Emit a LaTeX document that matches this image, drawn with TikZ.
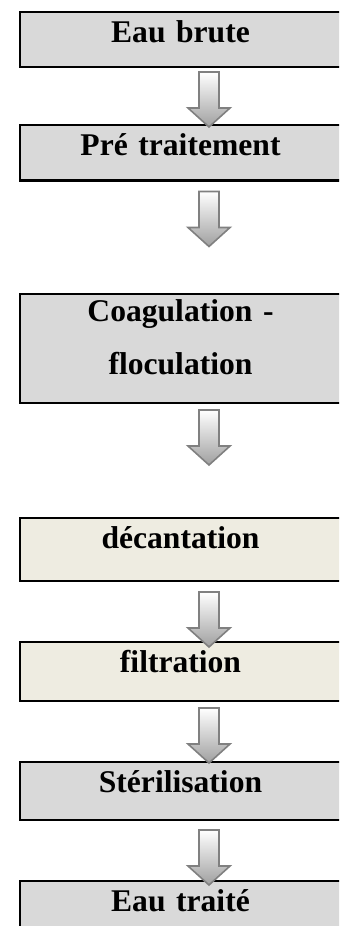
\documentclass[tikz,border=0pt]{standalone}
\usepackage{fontspec}
\setmainfont{Liberation Serif}
\usepackage{tikz}
\usetikzlibrary{calc}
\definecolor{boxgray}{RGB}{217,217,217}
\definecolor{boxbeige}{RGB}{238,236,225}
\definecolor{arrowgray}{RGB}{128,128,128}

% hollow block arrow hanging below a box, #2 = gap under the box
\newcommand{\flowarrow}[2]{%
  \draw[arrowshape] ($(#1.south west)+(179,#2)$) -- ++(20,0) -- ++(0,36) -- ++(11,0)
    -- ++(-21,19) -- ++(-21,-19) -- ++(11,0) -- cycle;
}

\begin{document}
\begin{tikzpicture}[
    x=0.5pt, y=-0.5pt,
    stepbox/.style={draw, line width=1.15pt, outer sep=0pt, anchor=north west, inner sep=0pt,
      text width=160.5pt, align=center, text height=15.25pt,
      font=\fontsize{15.8}{26.5}\selectfont\bfseries},
    arrowshape/.style={draw=arrowgray, line width=0.8pt, line join=miter,
      top color=white, bottom color=arrowgray!75},
]
    \useasboundingbox (0,0) rectangle (339,926);
    \clip (0,0) rectangle (339,926);

    \node[stepbox, fill=boxgray, text depth=12.25pt] (eau) at (20,12) {Eau brute};
    \node[stepbox, fill=boxgray, text depth=12.5pt] (pretrait) at (20,125) {Pré traitement};
    \node[stepbox, fill=boxgray, text height=14pt, text depth=40.8pt] (coag) at (20,293.7)
        {Coagulation -\\floculation};
    \node[stepbox, fill=boxbeige, text depth=16.4pt] (decant) at (20,518) {décantation};
    \node[stepbox, fill=boxbeige, text depth=14.25pt] (filtr) at (20,642.3) {filtration};
    \node[stepbox, fill=boxgray, text depth=13.75pt] (steril) at (20,762.3) {Stérilisation};
    \node[stepbox, fill=boxgray, text depth=20pt] (traite) at (20,880.7) {Eau traité};

    \flowarrow{eau}{5}
    \flowarrow{pretrait}{11}
    \flowarrow{coag}{6.7}
    \flowarrow{decant}{10.7}
    \flowarrow{filtr}{6.7}
    \flowarrow{steril}{9.7}
\end{tikzpicture}
\end{document}
